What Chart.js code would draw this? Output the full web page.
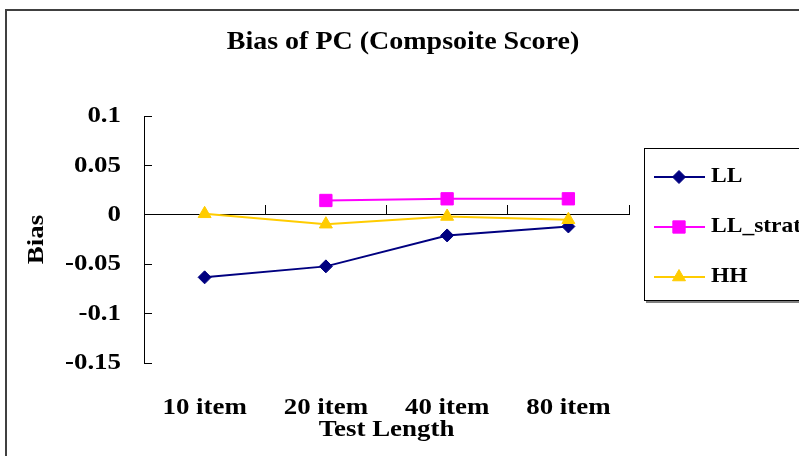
<!DOCTYPE html>
<html>
<head>
<meta charset="utf-8">
<script src="https://cdn.jsdelivr.net/npm/chart.js@4"></script>
<style>
  html, body { margin: 0; padding: 0; background: #fff; overflow: hidden; width: 799px; height: 456px; }
  #frame { position: absolute; left: 5px; top: 9px; width: 900px; height: 600px;
           border-left: 2px solid #404040; border-top: 2px solid #404040; }
  #chart { position: absolute; left: 0; top: 0; }
</style>
</head>
<body>
<div id="frame"></div>
<canvas id="chart" width="806" height="456"></canvas>
<script>
// Chart data
const categories = ['10 item', '20 item', '40 item', '80 item'];
const llValues = [-0.0633, -0.0522, -0.0209, -0.0118];
const llStratValues = [null, 0.0145, 0.0162, 0.0162];
const hhValues = [0.001, -0.0095, -0.0017, -0.005];
const seriesNames = ['LL', 'LL_strat', 'HH'];
const yMin = -0.15, yMax = 0.1, yStep = 0.05;

const SERIF = '"Liberation Serif", "Times New Roman", serif';
const TEXT_STRETCH = 1.12; // the original text is drawn wide

const canvas = document.getElementById('chart');
const ctx = canvas.getContext('2d');

// stretch every label horizontally around its anchor point
const baseFillText = ctx.fillText;
ctx.fillText = function (text, x, y, maxWidth) {
  this.save();
  this.translate(x, y);
  this.scale(TEXT_STRETCH, 1);
  if (maxWidth !== undefined) baseFillText.call(this, text, 0, 0, maxWidth / TEXT_STRETCH);
  else baseFillText.call(this, text, 0, 0);
  this.restore();
};

// Excel style legend box (line + marker + label), partly cut by the page edge
const legendBox = {
  id: 'legendBox',
  afterDraw(chart) {
    const c = chart.ctx;
    c.save();
    c.fillStyle = '#808080';
    c.fillRect(646, 301, 200, 2);
    c.strokeStyle = '#000';
    c.lineWidth = 1;
    c.strokeRect(644.5, 148.5, 200, 152);
    chart.data.datasets.forEach((ds, i) => {
      const y = 177 + i * 50;
      c.strokeStyle = ds.borderColor;
      c.lineWidth = ds.borderWidth;
      c.beginPath();
      c.moveTo(654, y);
      c.lineTo(705, y);
      c.stroke();
      c.fillStyle = ds.pointBackgroundColor;
      c.strokeStyle = ds.pointBorderColor;
      c.lineWidth = 1;
      Chart.helpers.drawPoint(c, { pointStyle: ds.pointStyle, radius: ds.pointRadius, rotation: 0, borderWidth: 1 }, 679, y);
      c.fillStyle = '#000';
      c.font = 'bold 21px ' + SERIF;
      c.textAlign = 'left';
      c.textBaseline = 'middle';
      c.fillText(ds.label, 711, y);
    });
    c.restore();
  }
};

function series(label, data, color, style, radius, order) {
  return {
    label, data, order,
    borderColor: color,
    borderWidth: 2,
    pointStyle: style,
    pointRadius: radius,
    pointHoverRadius: radius,
    pointBackgroundColor: color,
    pointBorderColor: color,
    pointBorderWidth: 1,
    tension: 0,
    fill: false,
    xAxisID: 'x',
    yAxisID: 'y'
  };
}

new Chart(ctx, {
  type: 'line',
  data: {
    labels: categories,
    datasets: [
      series(seriesNames[0], llValues, '#000080', 'rectRot', 6.5, 3),
      series(seriesNames[1], llStratValues, '#FF00FF', 'rect', 8.7, 2),
      series(seriesNames[2], hhValues, '#FFCC00', 'triangle', 7.5, 1)
    ]
  },
  options: {
    responsive: false,
    animation: false,
    layout: { padding: 0 },
    plugins: {
      legend: { display: false },
      tooltip: { enabled: false },
      title: {
        display: true,
        text: 'Bias of PC (Compsoite Score)',
        color: '#000',
        font: { family: SERIF, size: 25, weight: 'bold', lineHeight: 1.2 },
        padding: { top: 27.5, bottom: 58.5 }
      }
    },
    scales: {
      x: {
        type: 'category',
        position: 'bottom',
        offset: true,
        grid: { display: false, drawTicks: false },
        border: { display: false },
        ticks: { color: '#000', padding: 30.6, maxRotation: 0, autoSkip: false, font: { family: SERIF, size: 24, weight: 'bold' } },
        title: {
          display: true, text: 'Test Length', color: '#000',
          font: { family: SERIF, size: 24, weight: 'bold' },
          padding: { top: 0, bottom: 12.1 }
        },
        afterFit: s => { s.height = 93; }
      },
      x2: {
        type: 'category',
        position: { y: 0 },
        offset: true,
        grid: { display: true, drawOnChartArea: false, drawTicks: true, tickLength: -10, color: '#000', offset: true },
        border: { display: true, color: '#000', width: 1 },
        ticks: { display: false }
      },
      y: {
        min: yMin,
        max: yMax,
        position: 'left',
        grid: { drawOnChartArea: false, drawTicks: true, tickLength: -8, color: '#000' },
        border: { display: true, color: '#000', width: 1 },
        ticks: {
          stepSize: yStep, color: '#000', padding: 31,
          font: { family: SERIF, size: 24, weight: 'bold' },
          callback: v => String(+v.toFixed(2))
        },
        title: {
          display: true, text: 'Bias', color: '#000',
          font: { family: SERIF, size: 24, weight: 'bold' },
          padding: { top: 22.1, bottom: 0 }
        },
        afterFit: s => { s.width = 144; }
      },
      // empty space on the right, where the legend sits
      side: {
        type: 'linear',
        position: 'right',
        grid: { display: false },
        border: { display: false },
        ticks: { display: false },
        afterFit: s => { s.width = 177; }
      }
    }
  },
  plugins: [legendBox]
});
</script>
</body>
</html>
